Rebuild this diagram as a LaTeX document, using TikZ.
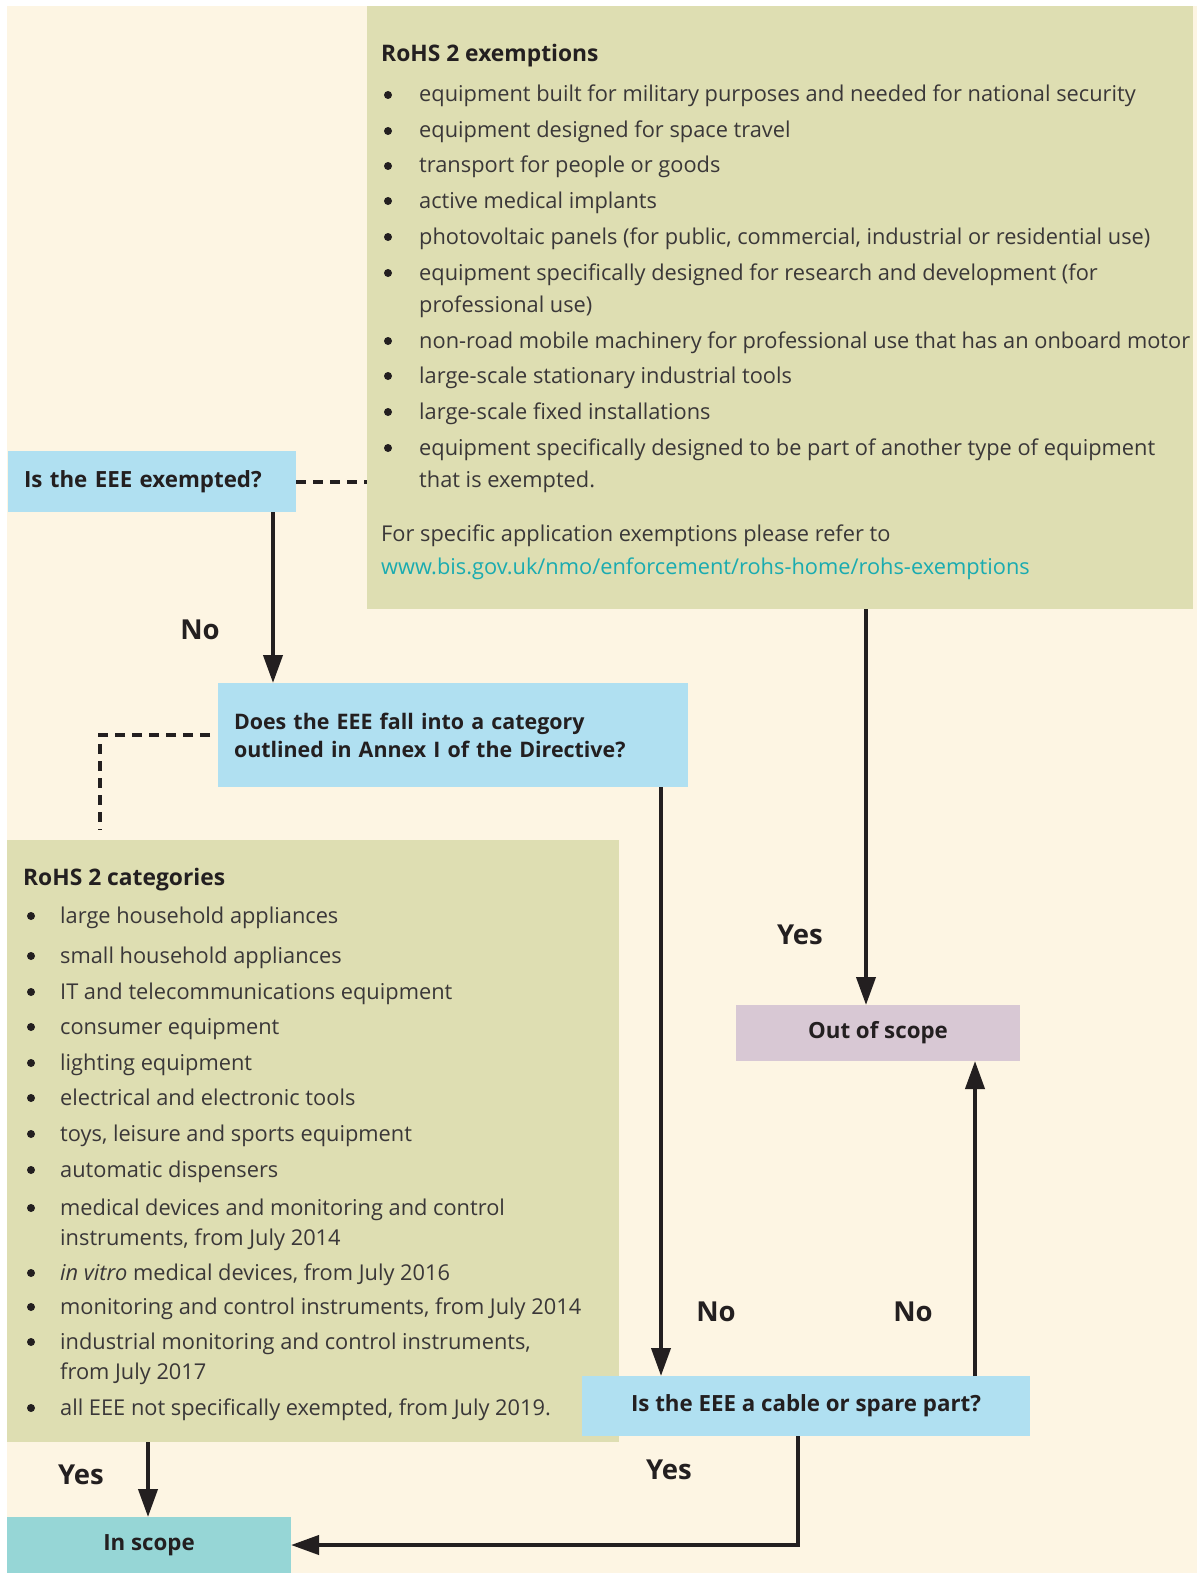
\documentclass[tikz,border=0pt]{standalone}
\usepackage{fontspec}
\setmainfont{Open Sans}
\usetikzlibrary{arrows.meta,calc}
\definecolor{cream}{HTML}{FDF5E3}
\definecolor{olive}{HTML}{DEDEB2}
\definecolor{skyb}{HTML}{B0E0F1}
\definecolor{tealbox}{HTML}{96D6D6}
\definecolor{lav}{HTML}{D8C8D4}
\definecolor{linkc}{HTML}{1AABB0}
\definecolor{ink}{HTML}{231F20}
\definecolor{bodyink}{HTML}{3A3738}
\newcommand\bodyfnt{\fontsize{21.8}{26}\selectfont}
\newcommand\qfnt{\fontsize{22.3}{28}\selectfont\bfseries}
\newcommand\qqfnt{\fontsize{21.4}{28}\selectfont\bfseries}
\newcommand\headfnt{\fontsize{22.8}{28}\selectfont\bfseries}
\newcommand\lblfnt{\fontsize{27.5}{30}\selectfont\bfseries}
\tikzset{
  panel/.style={rectangle, inner sep=0pt, outer sep=0pt, anchor=north west},
  qbox/.style={panel, fill=skyb, font=\qfnt, text=ink},
  body/.style={anchor=base west, inner sep=0pt, font=\bodyfnt, text=bodyink},
  head/.style={anchor=base west, inner sep=0pt, font=\headfnt, text=ink},
  lbl/.style={inner sep=0pt, font=\lblfnt, text=ink},
  dot/.style={fill=ink},
  flow/.style={line width=4pt, draw=ink, -{Triangle[length=28pt,width=19pt]}},
  dashln/.style={line width=4pt, draw=ink, dash pattern=on 10pt off 7pt},
}
\begin{document}
\begin{tikzpicture}[x=1pt,y=-1pt]
\useasboundingbox (0,0) rectangle (1197,1573);
\fill[white] (0,0) rectangle (1197,1573);
\fill[cream] (7,6) rectangle (1197,1573);

% panels
\node[panel, fill=olive, minimum width=826pt, minimum height=603pt] (exempt) at (367,6) {};
\node[panel, fill=olive, minimum width=612pt, minimum height=602pt] (cats) at (7,840) {};

% question boxes
\node[qbox, minimum width=288pt, minimum height=61pt, text width=256pt, inner xsep=16pt, align=left] (q1) at (8,451) {Is the EEE exempted?};
\node[qbox, font=\qqfnt, minimum width=470pt, minimum height=104pt, text width=438pt, inner xsep=16pt, align=left] (q2) at (218,683) {Does the EEE fall into a category\\outlined in Annex I of the Directive?};
\node[qbox, minimum width=448pt, minimum height=60pt, align=center] (q3) at (582,1376) {Is the EEE a cable or spare part?};
\node[panel, fill=lav, minimum width=284pt, minimum height=56pt, font=\qfnt, text=ink] (out) at (736,1005) {Out of scope};
\node[panel, fill=tealbox, minimum width=284pt, minimum height=56pt, font=\qfnt, text=ink] (insc) at (7,1517) {In scope};

% exemptions text
\node[head] (eh) at (381,62) {RoHS 2 exemptions};
\foreach \yy in {95,131,166,201,237,273,341,376,412,448} \fill[dot] (388,\yy) circle (4pt);
\node[body] (e1) at (419,102) {equipment built for military purposes and needed for national security};
\node[body] (e2) at (419,138) {equipment designed for space travel};
\node[body] (e3) at (419,173) {transport for people or goods};
\node[body] (e4) at (419,208) {active medical implants};
\node[body] (e5) at (419,244) {photovoltaic panels (for public, commercial, industrial or residential use)};
\node[body] (e6a) at (419,280) {equipment specifically designed for research and development (for};
\node[body] (e6b) at (419,312) {professional use)};
\node[body] (e7) at (419,348) {non-road mobile machinery for professional use that has an onboard motor};
\node[body] (e8) at (419,383) {large-scale stationary industrial tools};
\node[body] (e9) at (419,419) {large-scale fixed installations};
\node[body] (e10a) at (419,455) {equipment specifically designed to be part of another type of equipment};
\node[body] (e10b) at (419,487) {that is exempted.};
\node[body] (ef) at (381,541) {For specific application exemptions please refer to};
\node[body, text=linkc] (el) at (381,574) {www.bis.gov.uk/nmo/enforcement/rohs-home/rohs-exemptions};

% categories text
\node[head] (ch) at (23,885) {RoHS 2 categories};
\foreach \yy in {916,956,992,1027,1063,1098,1134,1170,1208,1273,1307,1342,1408} \fill[dot] (31,\yy) circle (4pt);
\node[body] (c1) at (60,923) {large household appliances};
\node[body] (c2) at (60,963) {small household appliances};
\node[body] (c3) at (60,999) {IT and telecommunications equipment};
\node[body] (c4) at (60,1034) {consumer equipment};
\node[body] (c5) at (60,1070) {lighting equipment};
\node[body] (c6) at (60,1105) {electrical and electronic tools};
\node[body] (c7) at (60,1141) {toys, leisure and sports equipment};
\node[body] (c8) at (60,1177) {automatic dispensers};
\node[body] (c9a) at (60,1215) {medical devices and monitoring and control};
\node[body] (c9b) at (60,1245) {instruments, from July 2014};
\node[body] (c10) at (60,1280) {\textit{in vitro} medical devices, from July 2016};
\node[body] (c11) at (60,1314) {monitoring and control instruments, from July 2014};
\node[body] (c12a) at (60,1349) {industrial monitoring and control instruments,};
\node[body] (c12b) at (60,1379) {from July 2017};
\node[body] (c13) at (60,1415) {all EEE not specifically exempted, from July 2019.};

% labels
\node[lbl] (l1) at (200,630) {No};
\node[lbl] (l2) at (800,935) {Yes};
\node[lbl] (l3) at (716,1312) {No};
\node[lbl] (l4) at (913,1312) {No};
\node[lbl] (l5) at (81,1475) {Yes};
\node[lbl] (l6) at (669,1470) {Yes};

% connectors
\coordinate (d1) at (100,735);
\coordinate (d2) at (100,830);
\coordinate (b1) at (798,1545);
\draw[dashln] (q1.east) -- (q1.east -| exempt.west);
\draw[dashln] ([xshift=-8pt]q2.west) -- (d1) -- (d2);
\draw[flow] (q1.south -| 273,0) -- (q2.north -| 273,0);
\draw[flow] (q2.south -| 661,0) -- (q3.north -| 661,0);
\draw[flow] (exempt.south -| 866,0) -- (out.north -| 866,0);
\draw[flow] (q3.north -| 975,0) -- (out.south -| 975,0);
\draw[flow] (cats.south -| 148,0) -- (insc.north -| 148,0);
\draw[flow] (q3.south -| b1) -- (b1) -- (b1 -| insc.east);
\end{tikzpicture}
\end{document}
